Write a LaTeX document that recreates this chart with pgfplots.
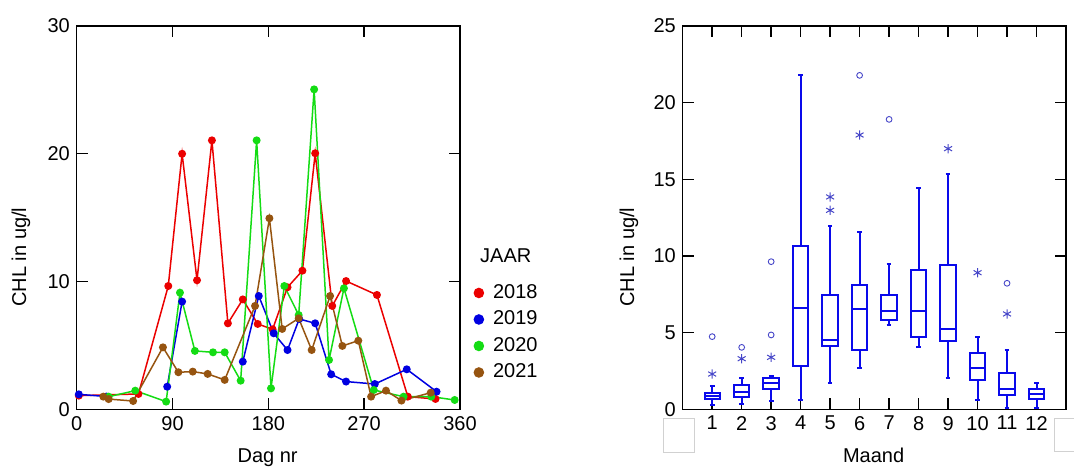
\documentclass[border=0pt]{standalone}
\usepackage{fontspec}
\setmainfont{Liberation Sans}
\usepackage{pgfplots}
\pgfplotsset{compat=1.18}
\usepgfplotslibrary{statistics}
\definecolor{cred}{RGB}{235,0,0}
\definecolor{cblue}{RGB}{0,0,225}
\definecolor{cgreen}{RGB}{20,220,20}
\definecolor{cbrown}{RGB}{150,84,16}
\definecolor{bblue}{RGB}{10,10,235}
\definecolor{oblue}{RGB}{70,70,200}
\begin{document}
\fontsize{20}{24}\selectfont
\begin{tikzpicture}[x=1pt,y=1pt]
\useasboundingbox (0,0) rectangle (1074,467);
\pgfplotsset{common/.style={
  scale only axis, width=383.3pt, height=383.3pt, anchor=south west,
  axis line style={line width=1.4pt},
  tick align=inside, major tick length=11pt,
  tick style={black,line width=1.4pt},
  tick label style={font=\fontsize{20}{24}\selectfont},
  label style={font=\fontsize{20}{24}\selectfont},
  /pgf/number format/assume math mode=true,
  clip=false,
}}
% left chart
\begin{axis}[common, at={(76.7pt,57.7pt)},
  xmin=0, xmax=360, ymin=0, ymax=30,
  xtick={0,90,180,270,360}, ytick={0,10,20,30},
  xlabel={Dag nr}, ylabel={CHL in ug/l},
  xlabel style={at={(axis description cs:0.498,-0.140)}, anchor=base},
  ylabel style={at={(axis description cs:-0.1453,0.397)}, anchor=center},
  unbounded coords=jump,
  every axis plot/.append style={line width=1.5pt, mark=*, mark size=3.2pt},
  legend style={at={(axis description cs:1.035,0.334)}, anchor=north west, draw=none, fill=none,
    inner sep=0pt, row sep=3.5pt, font=\fontsize{20}{24}\selectfont,
    nodes={inner sep=2pt, text height=15pt, text depth=4pt},
    /tikz/column 1/.style={column sep=7pt}},
  legend cell align=left,
  legend image code/.code={\fill[#1] (4.5pt,0pt) circle (4.5pt);},
]
\addplot[color=cred] coordinates {(2,1.07)(58,1.2)(86,9.65)(99,20.0)(113,10.1)(127,21.05)(142,6.73)(156,8.6)(170,6.68)(184,6.26)(198,9.55)(212,10.85)(224,20.04)(240,8.09)(253,10.04)(282,8.95)(311,0.99)(337,0.81)};
\addlegendentry{2018}
\addplot[color=cblue] coordinates {(2,1.17)(28,1.0)(50,nan)(85,1.77)(99,8.43)(130,nan)(156,3.73)(171,8.87)(185,5.95)(198,4.64)(209,7.07)(224,6.73)(239,2.74)(253,2.17)(280,1.98)(310,3.13)(338,1.38)};
\addlegendentry{2019}
\addplot[color=cgreen] coordinates {(30,0.99)(55,1.46)(84,0.6)(97,9.13)(111,4.57)(128,4.46)(139,4.46)(154,2.24)(169,21.05)(182.5,1.64)(195,9.65)(208.5,7.38)(223,25.04)(237,3.86)(251,9.47)(279,1.51)(307,0.99)(333,0.99)(355,0.73)};
\addlegendentry{2020}
\addplot[color=cbrown] coordinates {(25,0.99)(30,0.8)(53,0.65)(81,4.85)(95.5,2.9)(109,2.95)(123,2.77)(139,2.3)(167.5,8.09)(181,14.95)(193,6.29)(208.5,7.12)(220.7,4.64)(238,8.87)(249.5,4.96)(264.5,5.37)(276.5,0.99)(290.5,1.46)(305,0.68)(332.5,1.3)};
\addlegendentry{2021}
\end{axis}
\node[anchor=base west, inner sep=0pt, font=\fontsize{20}{24}\selectfont] at (480,205) {JAAR};
% right chart
\begin{axis}[common, at={(682.7pt,57.7pt)},
  xmin=0, xmax=13, ymin=0, ymax=25,
  xtick={1,...,12}, ytick={0,5,10,15,20,25},
  xlabel={Maand}, ylabel={CHL in ug/l},
  xlabel style={at={(axis description cs:0.498,-0.140)}, anchor=base},
  ylabel style={at={(axis description cs:-0.140,0.397)}, anchor=center},
  every axis plot/.append style={draw=bblue, line width=2pt, solid},
  boxplot/draw direction=y,
  boxplot/box extend=0.52, boxplot/whisker extend=0.16,
]
\addplot[boxplot prepared={draw position=1, lower whisker=0.28, lower quartile=0.65, median=0.87, upper quartile=1.09, upper whisker=1.52}] coordinates {};
\addplot[boxplot prepared={draw position=2, lower whisker=0.33, lower quartile=0.78, median=1.15, upper quartile=1.59, upper whisker=2.02}] coordinates {};
\addplot[boxplot prepared={draw position=3, lower whisker=0.57, lower quartile=1.30, median=1.70, upper quartile=2.07, upper whisker=2.17}] coordinates {};
\addplot[boxplot prepared={draw position=4, lower whisker=0.61, lower quartile=2.85, median=6.59, upper quartile=10.65, upper whisker=21.78}] coordinates {};
\addplot[boxplot prepared={draw position=5, lower whisker=1.74, lower quartile=4.15, median=4.52, upper quartile=7.43, upper whisker=11.98}] coordinates {};
\addplot[boxplot prepared={draw position=6, lower whisker=2.70, lower quartile=3.87, median=6.52, upper quartile=8.09, upper whisker=11.59}] coordinates {};
\addplot[boxplot prepared={draw position=7, lower whisker=5.52, lower quartile=5.83, median=6.43, upper quartile=7.46, upper whisker=9.46}] coordinates {};
\addplot[boxplot prepared={draw position=8, lower whisker=4.09, lower quartile=4.70, median=6.39, upper quartile=9.09, upper whisker=14.41}] coordinates {};
\addplot[boxplot prepared={draw position=9, lower whisker=2.07, lower quartile=4.48, median=5.26, upper quartile=9.41, upper whisker=15.33}] coordinates {};
\addplot[boxplot prepared={draw position=10, lower whisker=0.61, lower quartile=1.91, median=2.70, upper quartile=3.70, upper whisker=4.74}] coordinates {};
\addplot[boxplot prepared={draw position=11, lower whisker=0.07, lower quartile=0.93, median=1.30, upper quartile=2.39, upper whisker=3.87}] coordinates {};
\addplot[boxplot prepared={draw position=12, lower whisker=0.07, lower quartile=0.65, median=0.98, upper quartile=1.30, upper whisker=1.70}] coordinates {};
\addplot[only marks, mark=asterisk, mark size=4.6pt, draw=oblue, line width=1pt] coordinates {(1,2.30)(2,3.30)(3,3.39)(5,13.85)(5,12.98)(6,17.89)(9,17.0)(10,8.91)(11,6.22)};
\addplot[only marks, mark=o, mark size=2.9pt, draw=oblue, line width=0.9pt] coordinates {(1,4.74)(2,4.04)(3,4.85)(3,9.63)(6,21.78)(7,18.91)(11,8.22)};
\end{axis}
\draw[black!18, line width=0.8pt] (663.3,14.7) rectangle (694.3,48.7);
\draw[black!18, line width=0.8pt] (1074,48.3) -- (1054.3,48.3) -- (1054.3,15.3) -- (1074,15.3);
\end{tikzpicture}
\end{document}
